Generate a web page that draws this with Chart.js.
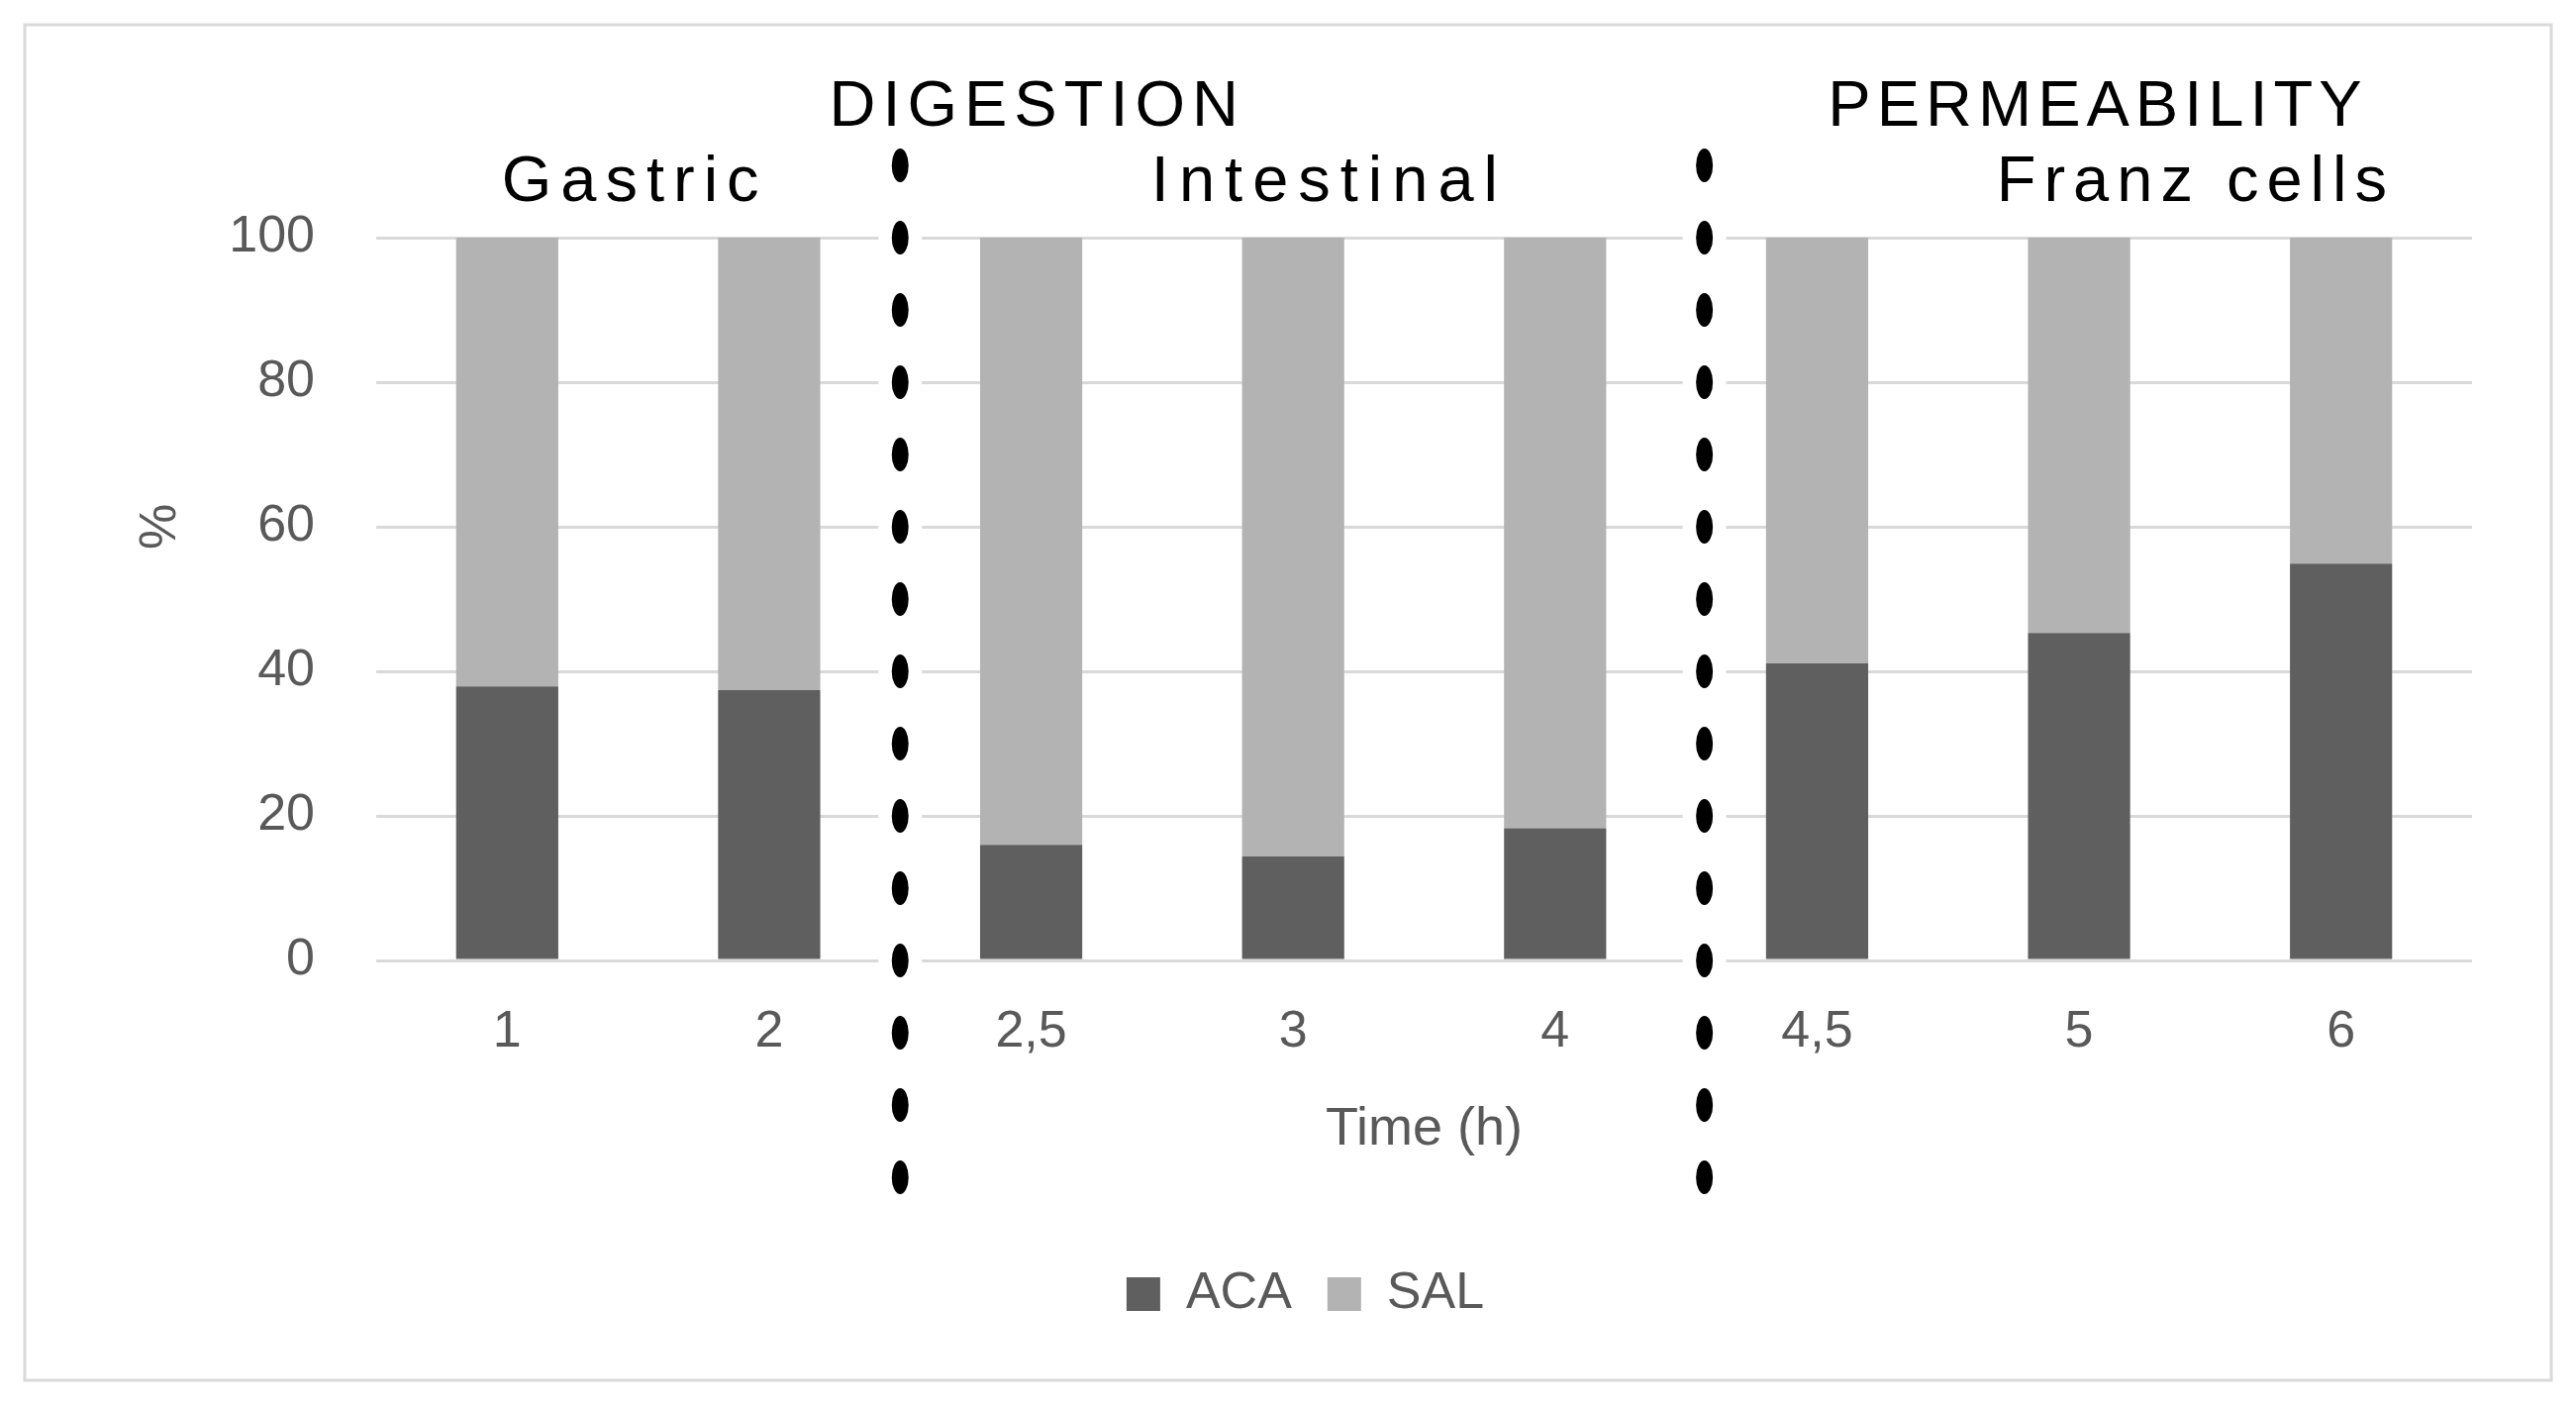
<!DOCTYPE html>
<html>
<head>
<meta charset="utf-8">
<script src="https://cdn.jsdelivr.net/npm/chart.js@4.4.1/dist/chart.umd.min.js"></script>
<style>
  html, body { margin: 0; padding: 0; background: #ffffff; }
  canvas { display: block; }
</style>
</head>
<body>
<canvas id="chart" width="2602" height="1422"></canvas>
<script>
// values (%)
var timeLabels = ['1', '2', '2,5', '3', '4', '4,5', '5', '6'];
var aca = [37.9, 37.4, 16.0, 14.4, 18.3, 41.1, 45.3, 54.9];
var sal = [62.1, 62.6, 84.0, 85.6, 81.7, 58.9, 54.7, 45.1];
var yTicks = [0, 20, 40, 60, 80, 100];

var FONT = "'Liberation Sans', Arial, sans-serif";

//draws frame, section titles, the dotted separators and the "%" label
var decorPlugin = {
    id: 'decor',
    afterLayout: function(chart) {
        // legend sits a bit right of the canvas centre in the original
        if (chart.legend) {
            chart.legend.left += 70;
            chart.legend.right += 70;
        }
    },
    beforeDraw: function(chart) {
        var ctx = chart.ctx;
        ctx.save();
        ctx.fillStyle = '#ffffff';
        ctx.fillRect(0, 0, chart.width, chart.height);
        ctx.strokeStyle = '#d9d9d9';
        ctx.lineWidth = 3;
        ctx.strokeRect(25, 25, chart.width - 50, chart.height - 53);
        ctx.restore();
    },
    afterDatasetsDraw: function(chart) {
        var ctx = chart.ctx;
        var xs = chart.scales.x;
        var ys = chart.scales.y;
        var top = chart.chartArea.top;

        // separators between the phases
        [1.5, 4.57].forEach(function(v) {
            var x = xs.getPixelForValue(v);
            ctx.save();
            ctx.fillStyle = '#ffffff';
            ctx.fillRect(x - 22, 140, 44, 1150);
            ctx.fillStyle = '#000000';
            for (var d = 110; d >= -30; d -= 10) {
                ctx.beginPath();
                ctx.ellipse(x, ys.getPixelForValue(d), 8.5, 17, 0, 0, Math.PI * 2);
                ctx.fill();
            }
            ctx.restore();
        });

        // phase titles
        var heads = [
            { text: 'DIGESTION', v: 2.01, dy: 113, ls: 7 },
            { text: 'PERMEABILITY', v: 6.06, dy: 113, ls: 6 },
            { text: 'Gastric', v: 0.47, dy: 37, ls: 9 },
            { text: 'Intestinal', v: 3.12, dy: 37, ls: 10 },
            { text: 'Franz cells', v: 6.43, dy: 37, ls: 8 }
        ];
        ctx.save();
        ctx.fillStyle = '#000000';
        ctx.font = '65px ' + FONT;
        ctx.textAlign = 'center';
        ctx.textBaseline = 'alphabetic';
        heads.forEach(function(h) {
            ctx.letterSpacing = h.ls + 'px';
            ctx.fillText(h.text, xs.getPixelForValue(h.v) + h.ls / 2, top - h.dy);
        });
        ctx.restore();

        // y axis label
        ctx.save();
        ctx.fillStyle = '#595959';
        ctx.font = '52px ' + FONT;
        ctx.textAlign = 'center';
        ctx.textBaseline = 'middle';
        ctx.translate(163, ys.getPixelForValue(60));
        ctx.rotate(-Math.PI / 2);
        ctx.fillText('%', 0, 0);
        ctx.restore();
    }
};

var ctx = document.getElementById('chart').getContext('2d');
var myChart = new Chart(ctx, {
    type: 'bar',
    data: {
        labels: timeLabels,
        datasets: [{
            label: 'ACA',
            data: aca,
            backgroundColor: '#5f5f5f',
            borderWidth: 0
        }, {
            label: 'SAL',
            data: sal,
            backgroundColor: '#b3b3b3',
            borderWidth: 0
        }]
    },
    options: {
        responsive: false,
        animation: false,
        devicePixelRatio: 1,
        categoryPercentage: 1,
        barPercentage: 0.39,
        layout: {
            padding: { top: 240, right: 105, bottom: 79, left: 0 }
        },
        plugins: {
            tooltip: { enabled: false },
            legend: {
                position: 'bottom',
                labels: {
                    boxWidth: 34,
                    boxHeight: 34,
                    padding: 36,
                    color: '#595959',
                    font: { family: FONT, size: 52 }
                }
            }
        },
        scales: {
            x: {
                stacked: true,
                grid: { display: false, drawTicks: false },
                border: { display: false },
                ticks: {
                    color: '#595959',
                    padding: 41,
                    font: { family: FONT, size: 52 }
                },
                title: {
                    display: true,
                    text: 'Time (h)',
                    color: '#595959',
                    padding: { top: 0, bottom: 71 },
                    font: { family: FONT, size: 54 }
                },
                afterFit: function(scale) { scale.height = 275; }
            },
            y: {
                stacked: true,
                min: 0,
                max: 100,
                afterBuildTicks: function(scale) {
                    scale.ticks = yTicks.map(function(v) { return { value: v }; });
                },
                grid: { color: '#d9d9d9', lineWidth: 3, drawTicks: false },
                border: { display: false },
                ticks: {
                    color: '#595959',
                    padding: 62,
                    font: { family: FONT, size: 52 }
                },
                afterFit: function(scale) { scale.width = 380; }
            }
        }
    },
    plugins: [decorPlugin]
});
</script>
</body>
</html>
